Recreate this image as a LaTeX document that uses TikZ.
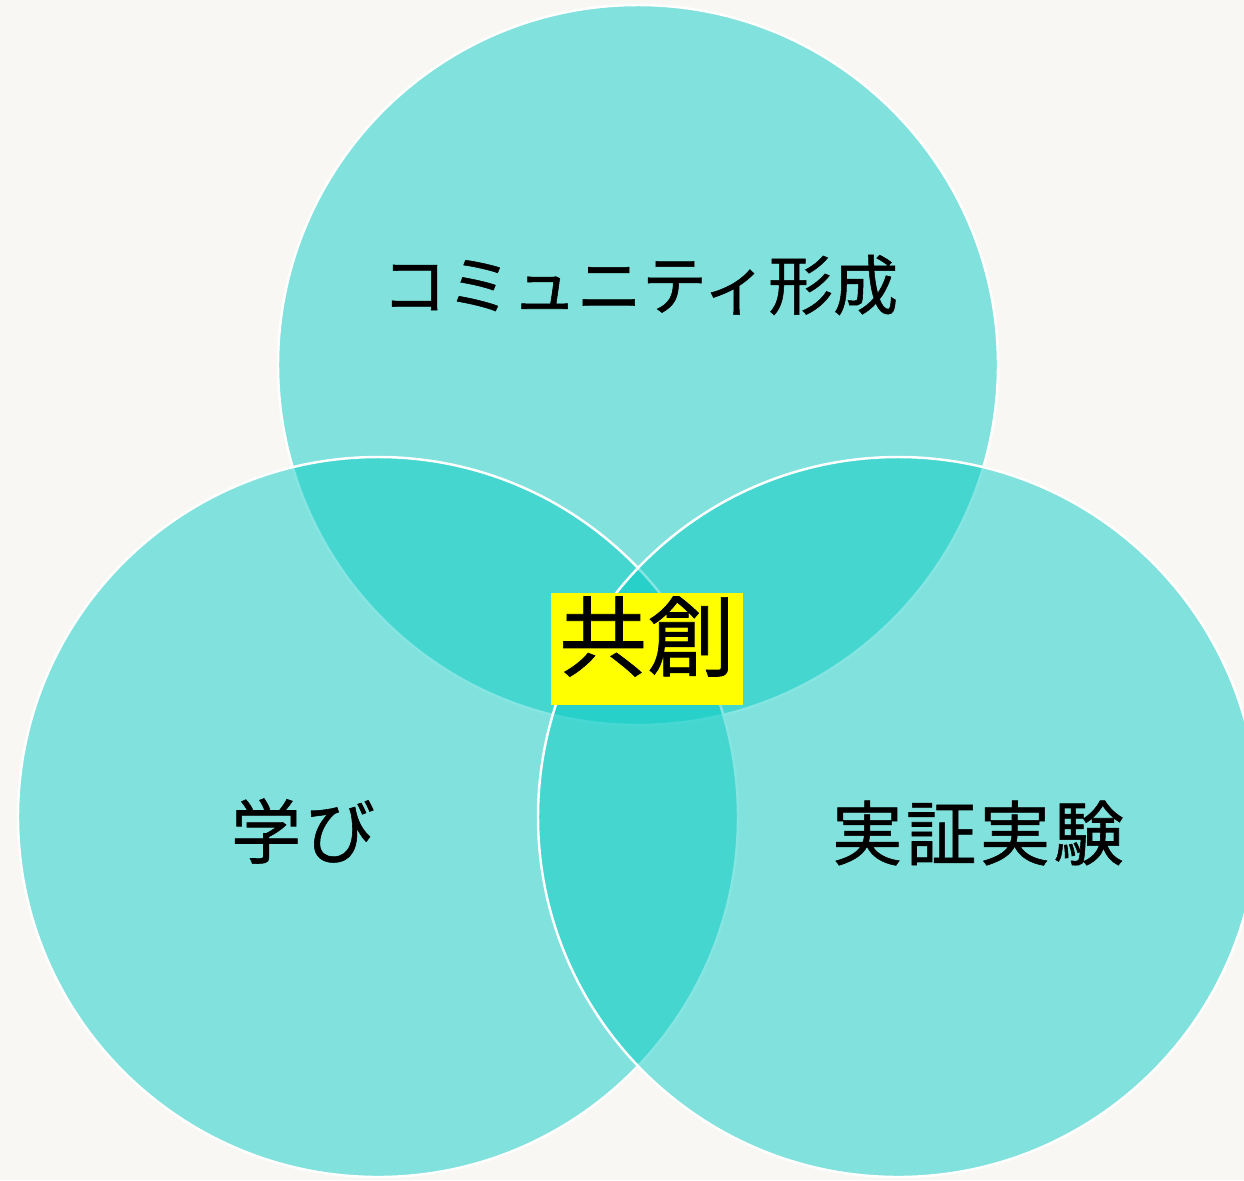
\documentclass[tikz,border=0pt]{standalone}
\usepackage{fontspec}
\newfontfamily\jpfont[FakeBold=0.8]{Noto Sans CJK JP}
\definecolor{paper}{HTML}{F8F7F3}
\definecolor{venncol}{HTML}{0BCDC6}
\definecolor{markyellow}{HTML}{FFFF00}
\tikzset{
  venn/.style={circle, draw=white, line width=0.7pt, fill=venncol, fill opacity=0.5, minimum size=7.2cm, inner sep=0pt},
  lbl/.style={font=\jpfont\fontsize{18.5}{22}\selectfont, inner sep=0pt},
  biglbl/.style={font=\jpfont\fontsize{20}{24}\selectfont\addfontfeature{LetterSpace=5}, inner sep=0pt},
  highlight/.style={fill=markyellow, font=\jpfont\fontsize{25}{30}\selectfont, minimum width=1.92cm, minimum height=1.12cm, text depth=0.32cm, inner sep=0pt}
}
\begin{document}
\begin{tikzpicture}
\path[use as bounding box, fill=paper] (0,0) rectangle (12.44,-11.80);
\clip (0,0) rectangle (12.44,-11.80);
% the three circles
\node[venn] (community) at (6.38,-3.65) {};
\node[venn] (learning) at (3.78,-8.17) {};
\node[venn] (experiment) at (8.98,-8.17) {};
% labels
\node[lbl] (communitytext) at (6.40,-2.85) {コミュニティ形成};
\node[biglbl] (learningtext) at (3.03,-8.31) {学び};
\node[biglbl] (experimenttext) at (9.78,-8.33) {実証実験};
\node[highlight] (cocreation) at (6.47,-6.49) {共創};
\end{tikzpicture}
\end{document}
